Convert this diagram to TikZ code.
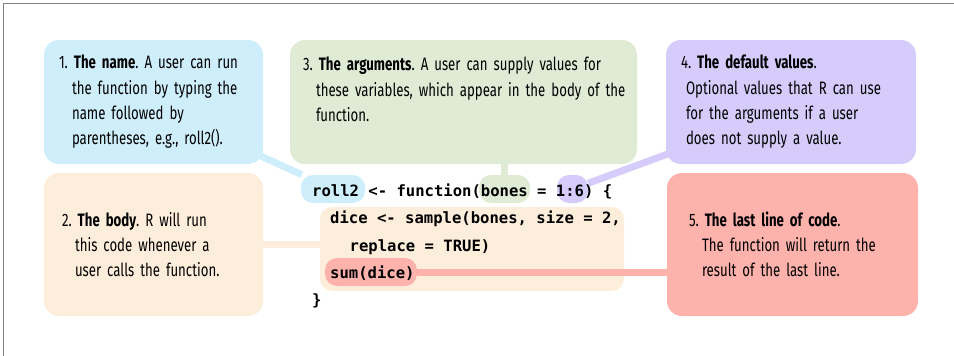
\documentclass[tikz,border=0pt]{standalone}
\usepackage{fontspec}
\setmainfont{Fira Sans}[FakeStretch=0.735]
\newfontfamily\codefont{DejaVu Sans Mono}
\usetikzlibrary{calc}

\definecolor{nameblue}{RGB}{206,238,251}
\definecolor{argsgreen}{RGB}{224,235,213}
\definecolor{defpurple}{RGB}{214,204,251}
\definecolor{bodyorange}{RGB}{253,238,219}
\definecolor{lastred}{RGB}{253,178,172}

\pgfdeclarelayer{back}
\pgfdeclarelayer{mid}
\pgfsetlayers{back,mid,main}

\begin{document}
\begin{tikzpicture}
[x=1pt, y=-1pt,
 note/.style={rounded corners=15pt, inner xsep=15pt, inner ysep=0pt, align=left,
              font=\fontsize{18}{25.3}\selectfont\frenchspacing,
              execute at begin node={\hangindent=#1\hangafter=1}},
 note/.default=13pt,
 hilite/.style={rounded corners=12pt, minimum height=28pt, inner sep=0pt},
 link/.style={line width=7pt},
 code/.style={anchor=base west, inner sep=0pt,
              font=\fontsize{15.57}{18}\codefont\bfseries}]
\useasboundingbox (0,0) rectangle (954,356);
\draw[gray, line width=1.5pt] (3.5,356) -- (3.5,3.5) -- (954,3.5);

% the code block behind everything
\begin{pgfonlayer}{back}
\node[fill=bodyorange, rounded corners=12pt, minimum width=304pt, minimum height=84pt,
      inner sep=0pt] (codebody) at (472,249) {};
\end{pgfonlayer}

% the five notes
\node[note, fill=nameblue, text width=189pt, minimum height=124pt] (name) at (153.5,102)
  {1. \textbf{The name}. A user can run\newline the function by typing the\newline
   name followed by\newline parentheses, e.g., roll2().};
\node[note, fill=argsgreen, inner xsep=13pt, text width=321pt, minimum height=124pt]
  (args) at (463.5,102)
  {3. \textbf{The arguments}. A user can supply values for\newline
   \mbox{these variables, which appear in the body of the}\newline function.\newline\mbox{}};
\node[note=5pt, fill=defpurple, text width=220pt, minimum height=124pt] (default) at (791,102)
  {4. \textbf{The default values}.\newline Optional values that R can use\newline
   for the arguments if a user\newline does not supply a value.};
\node[note, fill=bodyorange, inner xsep=18pt, text width=183pt, minimum height=143pt]
  (body) at (153.5,244.5)
  {2. \textbf{The body}. R will run\newline this code whenever a\newline
   user calls the function.};
\node[note, fill=lastred, inner xsep=22pt, text width=207pt, minimum height=143pt]
  (last) at (792.5,244.5)
  {5. \textbf{The last line of code}.\newline The function will return the\newline
   result of the last line.};

% highlights in the code
\node[hilite, fill=nameblue, minimum width=64pt] (hlname) at (333,189) {};
\node[hilite, fill=argsgreen, minimum width=51pt] (hlargs) at (504.5,189) {};
\node[hilite, fill=defpurple, minimum width=31pt] (hldefault) at (572.5,189) {};
\node[hilite, fill=lastred, minimum width=92pt] (hllast) at (371,272) {};

\begin{pgfonlayer}{mid}
\draw[link, nameblue] ($(name.south east)+(-13pt,13pt)$) -- (hlname);
\draw[link, argsgreen] (hlargs) -- (hlargs |- args);
\draw[link, defpurple] (hldefault) -- ($(default.south west)+(15pt,15pt)$);
\draw[link, bodyorange] (body) -- (body -| codebody);
\draw[link, lastred] (hllast) -- (hllast -| last);
\end{pgfonlayer}

\node[code] (line1) at (312,196) {roll2 <- function(bones = 1:6) \{};
\node[code] (line2) at (330,223) {dice <- sample(bones, size = 2,};
\node[code] (line3) at (349.5,251) {replace = TRUE)};
\node[code] (line4) at (330,278) {sum(dice)};
\node[code] (line5) at (312,305) {\}};
\end{tikzpicture}
\end{document}
